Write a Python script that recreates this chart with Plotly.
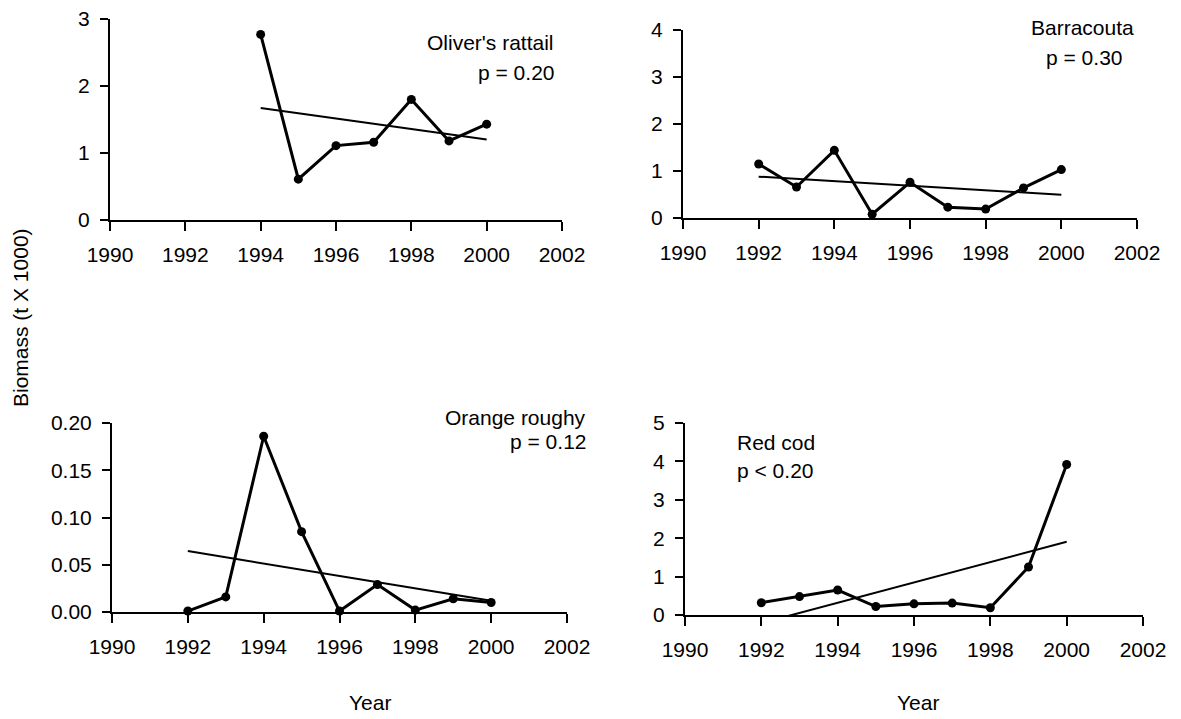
import numpy as np
import plotly.graph_objects as go

# ---- data: survey biomass (t x 1000) by year ----
years_rattail = [1994, 1995, 1996, 1997, 1998, 1999, 2000]
biomass_rattail = [2.77, 0.61, 1.11, 1.16, 1.80, 1.18, 1.43]

years_barracouta = [1992, 1993, 1994, 1995, 1996, 1997, 1998, 1999, 2000]
biomass_barracouta = [1.15, 0.66, 1.44, 0.08, 0.76, 0.23, 0.19, 0.64, 1.03]

years_roughy = [1992, 1993, 1994, 1995, 1996, 1997, 1998, 1999, 2000]
biomass_roughy = [0.001, 0.016, 0.186, 0.085, 0.001, 0.029, 0.002, 0.014, 0.010]

years_redcod = [1992, 1993, 1994, 1995, 1996, 1997, 1998, 1999, 2000]
biomass_redcod = [0.32, 0.48, 0.65, 0.22, 0.29, 0.31, 0.19, 1.25, 3.92]

species = ["Oliver's rattail", "Barracouta", "Orange roughy", "Red cod"]
p_labels = ["p = 0.20", "p = 0.30", "p = 0.12", "p < 0.20"]
y_max = [3, 4, 0.20, 5]
y_dtick = [1, 1, 0.05, 1]
y_format = ["d", "d", ".2f", "d"]
x_ticks = [1990, 1992, 1994, 1996, 1998, 2000, 2002]

W, H = 1181, 719
FONT = "Liberation Sans, Arial, sans-serif"


def fx(px):
    return px / W


def fy(py):
    return 1 - py / H


# panel rectangles in pixels: (left, right, top, bottom)
panels = [
    (110, 562, 19, 220),
    (683, 1137, 30, 218),
    (112, 567, 423, 612),
    (685, 1143, 423, 615),
]

series = [
    (years_rattail, biomass_rattail),
    (years_barracouta, biomass_barracouta),
    (years_roughy, biomass_roughy),
    (years_redcod, biomass_redcod),
]

fig = go.Figure()
layout = dict(
    template="none",
    width=W, height=H,
    margin=dict(l=0, r=0, t=0, b=0, pad=0, autoexpand=False),
    paper_bgcolor="white", plot_bgcolor="white",
    showlegend=False,
    font=dict(family=FONT, size=21, color="black"),
)

for i, ((x0, x1, y0, y1), (yrs, vals)) in enumerate(zip(panels, series)):
    n = "" if i == 0 else str(i + 1)
    xa, ya = "x" + n, "y" + n
    layout["xaxis" + n] = dict(
        domain=[fx(x0), fx(x1)], anchor=ya, range=[1990, 2002],
        tickvals=x_ticks, ticks="outside", ticklen=9, tickwidth=2,
        tickcolor="black", showline=True, linecolor="black", linewidth=2,
        showgrid=False, zeroline=False, ticklabelstandoff=6, automargin=False,
        tickfont=dict(family=FONT, size=21, color="black"),
    )
    layout["yaxis" + n] = dict(
        domain=[fy(y1), fy(y0)], anchor=xa, range=[0, y_max[i]],
        dtick=y_dtick[i], tick0=0, tickformat=y_format[i],
        ticks="outside", ticklen=8, tickwidth=2, tickcolor="black",
        showline=True, linecolor="black", linewidth=2,
        showgrid=False, zeroline=False, ticklabelstandoff=6, automargin=False,
        tickfont=dict(family=FONT, size=21, color="black"),
    )

    # least-squares trend through the annual values
    slope, intercept = np.polyfit(yrs, vals, 1)
    tx = [yrs[0], yrs[-1]]
    ty = [slope * t + intercept for t in tx]
    fig.add_trace(go.Scatter(
        x=tx, y=ty, xaxis=xa, yaxis=ya, mode="lines",
        line=dict(color="black", width=2), hoverinfo="skip",
    ))
    fig.add_trace(go.Scatter(
        x=yrs, y=vals, xaxis=xa, yaxis=ya, mode="lines+markers",
        line=dict(color="black", width=3),
        marker=dict(color="black", size=9), cliponaxis=False,
    ))

annotations = [
    # species names and significance
    dict(x=fx(556), y=fy(43), text=species[0], xanchor="right"),
    dict(x=fx(556), y=fy(72), text=p_labels[0], xanchor="right"),
    dict(x=fx(1082), y=fy(28), text=species[1], xanchor="center"),
    dict(x=fx(1084), y=fy(57), text=p_labels[1], xanchor="center"),
    dict(x=fx(588), y=fy(417), text=species[2], xanchor="right"),
    dict(x=fx(588), y=fy(441), text=p_labels[2], xanchor="right"),
    dict(x=fx(735), y=fy(442), text=species[3], xanchor="left"),
    dict(x=fx(735), y=fy(470), text=p_labels[3], xanchor="left"),
    # axis titles
    dict(x=fx(370), y=fy(702), text="Year", xanchor="center"),
    dict(x=fx(918), y=fy(702), text="Year", xanchor="center"),
    dict(x=fx(20), y=fy(318), text="Biomass (t X 1000)", xanchor="center",
         textangle=-90),
]
for a in annotations:
    a.update(xref="paper", yref="paper", yanchor="middle", showarrow=False,
             font=dict(family=FONT, size=21, color="black"))
layout["annotations"] = annotations

fig.update_layout(**layout)
fig.write_html("out.html")
